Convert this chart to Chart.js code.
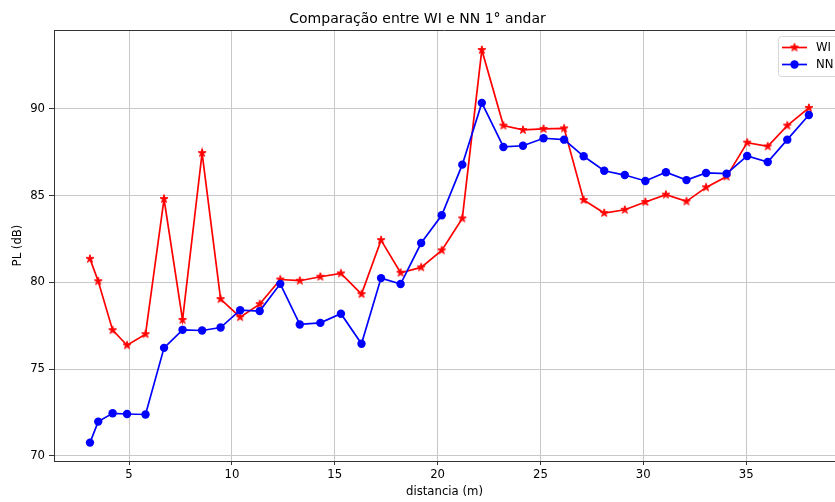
<!DOCTYPE html>
<html>
<head>
<meta charset="utf-8">
<script src="https://cdn.jsdelivr.net/npm/chart.js@4/dist/chart.umd.min.js"></script>
<style>
  html, body { margin: 0; padding: 0; background: #fff; }
  #wrap { width: 835px; height: 502px; }
</style>
</head>
<body>
<div id="wrap"><canvas id="chart" width="835" height="502"></canvas></div>
<script>
// data
const distancia = [3.1, 3.5, 4.2, 4.9, 5.8, 6.7, 7.6, 8.55, 9.45, 10.4, 11.35, 12.35, 13.3, 14.3, 15.3, 16.3, 17.25, 18.2, 19.2, 20.2, 21.2, 22.15, 23.2, 24.15, 25.15, 26.15, 27.1, 28.1, 29.1, 30.1, 31.1, 32.1, 33.05, 34.05, 35.05, 36.05, 37.0, 38.05];
const wiValues = [81.36, 80.07, 77.25, 76.38, 77.02, 84.81, 77.84, 87.46, 79.04, 78.0, 78.75, 80.17, 80.1, 80.33, 80.52, 79.33, 82.44, 80.56, 80.87, 81.85, 83.69, 93.4, 89.04, 88.79, 88.85, 88.88, 84.75, 84.0, 84.19, 84.64, 85.06, 84.67, 85.48, 86.1, 88.06, 87.84, 89.04, 90.06];
const nnValues = [70.77, 71.98, 72.46, 72.42, 72.39, 76.23, 77.27, 77.23, 77.4, 78.4, 78.35, 79.92, 77.58, 77.67, 78.2, 76.47, 80.25, 79.91, 82.27, 83.87, 86.79, 90.35, 87.81, 87.88, 88.31, 88.23, 87.27, 86.44, 86.19, 85.85, 86.35, 85.9, 86.31, 86.27, 87.29, 86.94, 88.23, 89.65];
const seriesNames = ["WI", "NN"];
const xTicks = [5, 10, 15, 20, 25, 30, 35];
const yTicks = [70, 75, 80, 85, 90];

const FONT = "DejaVu Sans";

// matplotlib-like filled star marker
function makeStar(r, color) {
  const c = document.createElement("canvas");
  const s = Math.ceil(r * 2 + 3);
  c.width = s; c.height = s;
  const g = c.getContext("2d");
  const cx = s / 2, cy = s / 2, ri = r * 0.382;
  g.beginPath();
  for (let i = 0; i < 10; i++) {
    const rad = i % 2 === 0 ? r : ri;
    const a = -Math.PI / 2 + i * Math.PI / 5;
    const px = cx + rad * Math.cos(a), py = cy + rad * Math.sin(a);
    if (i === 0) g.moveTo(px, py); else g.lineTo(px, py);
  }
  g.closePath();
  g.fillStyle = color;
  g.fill();
  g.strokeStyle = color;
  g.lineWidth = 1;
  g.stroke();
  return c;
}

const star = makeStar(4.2, "#ff0000");

function pts(ys) {
  return distancia.map((x, i) => ({ x: x, y: ys[i] }));
}

// top spine + legend box like matplotlib
const framePlugin = {
  id: "frame",
  afterDraw(chart) {
    const { ctx, chartArea: a } = chart;
    ctx.save();
    ctx.strokeStyle = "#333";
    ctx.lineWidth = 1;
    ctx.beginPath();
    ctx.moveTo(a.left, a.top + 0.5);
    ctx.lineTo(a.right, a.top + 0.5);
    ctx.stroke();

    // legend
    const bx = 778, by = 36, bw = 70, bh = 40;
    ctx.beginPath();
    ctx.roundRect(bx + 0.5, by + 0.5, bw, bh, 3);
    ctx.fillStyle = "rgba(255,255,255,0.8)";
    ctx.fill();
    ctx.strokeStyle = "#d6d6d6";
    ctx.stroke();

    const rows = [47.5, 64.5];
    chart.data.datasets.forEach((ds) => {
      const y = rows[ds.legendIndex];
      ctx.strokeStyle = ds.borderColor;
      ctx.lineWidth = 1.7;
      ctx.beginPath();
      ctx.moveTo(782, y);
      ctx.lineTo(807, y);
      ctx.stroke();
      if (ds.pointStyle === "circle") {
        ctx.beginPath();
        ctx.arc(794.5, y, 4.2, 0, Math.PI * 2);
        ctx.fillStyle = ds.borderColor;
        ctx.fill();
      } else {
        ctx.drawImage(ds.pointStyle, 794.5 - ds.pointStyle.width / 2, y - ds.pointStyle.height / 2);
      }
      ctx.fillStyle = "#000";
      ctx.font = "11.7px '" + FONT + "'";
      ctx.textBaseline = "middle";
      ctx.textAlign = "left";
      ctx.fillText(ds.label, 816, y + 0.5);
    });
    ctx.restore();
  },
};

new Chart(document.getElementById("chart"), {
  type: "line",
  data: {
    datasets: [
      {
        label: seriesNames[0],
        legendIndex: 0,
        data: pts(wiValues),
        borderColor: "#ff0000",
        backgroundColor: "#ff0000",
        borderWidth: 1.7,
        pointStyle: star,
        pointRadius: 4,
        tension: 0,
        order: 2,
      },
      {
        label: seriesNames[1],
        legendIndex: 1,
        data: pts(nnValues),
        borderColor: "#0000ff",
        backgroundColor: "#0000ff",
        borderWidth: 1.7,
        pointStyle: "circle",
        pointRadius: 4.2,
        pointBorderWidth: 0,
        tension: 0,
        order: 1,
      },
    ],
  },
  options: {
    responsive: false,
    animation: false,
    events: [],
    layout: { padding: 0, autoPadding: false },
    plugins: {
      legend: { display: false },
      tooltip: { enabled: false },
      title: {
        display: true,
        text: "Comparação entre WI e NN 1° andar",
        color: "#000",
        font: { family: FONT, size: 14, weight: "normal", lineHeight: 1.2 },
        padding: { top: 10.5, bottom: 2.7 },
      },
    },
    scales: {
      x: {
        type: "linear",
        min: 1.35,
        max: 39.32,
        afterBuildTicks: (axis) => { axis.ticks = xTicks.map(v => ({ value: v })); },
        afterFit: (scale) => {
          scale.height = 41;
          scale.paddingLeft = 0;
          scale.paddingRight = 0;
        },
        grid: { color: "#c8c8c8", lineWidth: 1, tickColor: "#333", tickLength: 4 },
        border: { display: true, color: "#333", width: 1 },
        ticks: {
          color: "#000",
          padding: 3,
          maxRotation: 0,
          font: { family: FONT, size: 11.7 },
        },
        title: {
          display: true,
          text: "distancia (m)",
          color: "#000",
          font: { family: FONT, size: 11.7, lineHeight: 1.2 },
          padding: { top: 0, bottom: 3 },
        },
      },
      y: {
        type: "linear",
        min: 69.71,
        max: 94.55,
        afterBuildTicks: (axis) => { axis.ticks = yTicks.map(v => ({ value: v })); },
        afterFit: (scale) => {
          scale.width = 54;
          scale.paddingTop = 0;
          scale.paddingBottom = 0;
        },
        grid: { color: "#c8c8c8", lineWidth: 1, tickColor: "#333", tickLength: 5 },
        border: { display: true, color: "#333", width: 1 },
        ticks: {
          color: "#000",
          padding: 4,
          font: { family: FONT, size: 11.7 },
        },
        title: {
          display: true,
          text: "PL (dB)",
          color: "#000",
          font: { family: FONT, size: 11.7, lineHeight: 1.2 },
          padding: { top: 11, bottom: 0 },
        },
      },
    },
  },
  plugins: [framePlugin],
});
</script>
</body>
</html>
